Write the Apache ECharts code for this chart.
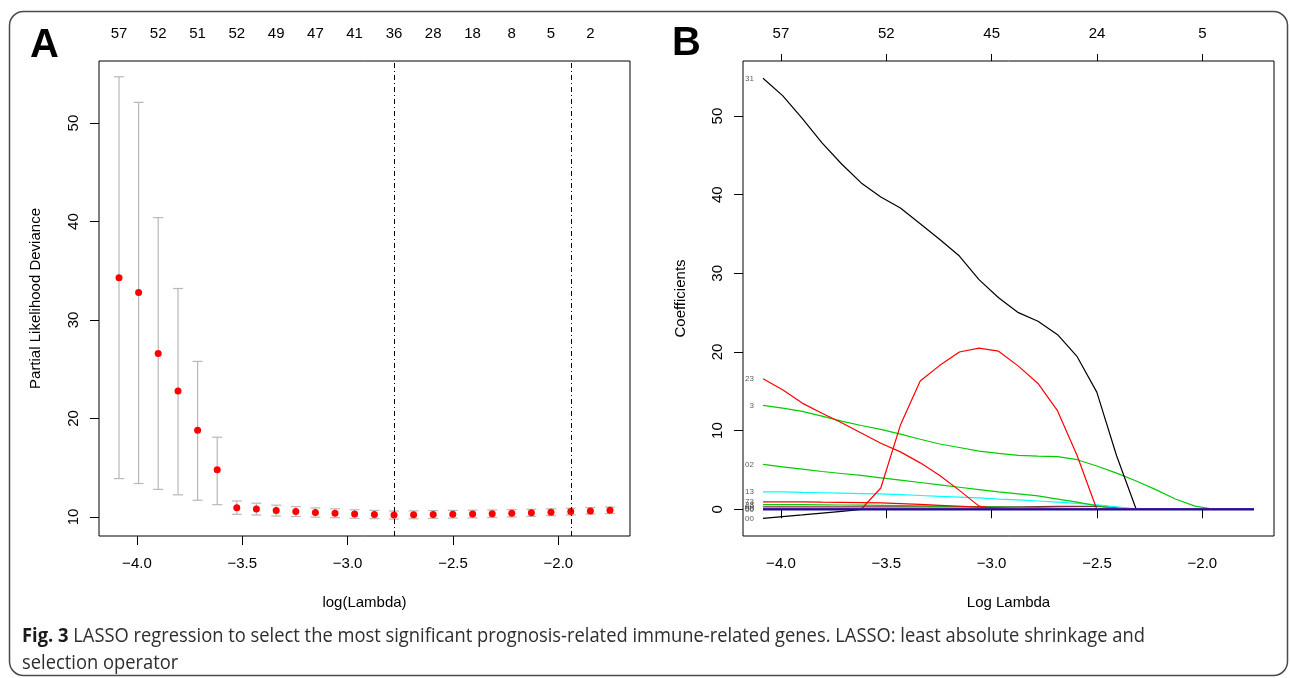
<!DOCTYPE html>
<html>
<head>
<meta charset="utf-8">
<script src="https://cdn.jsdelivr.net/npm/echarts@6/dist/echarts.min.js"></script>
<style>
  html, body { margin: 0; padding: 0; background: #fff; }
  #chart { width: 1290px; height: 678px; }
</style>
</head>
<body>
<div id="chart"></div>
<script>
// ---------------- DATA ----------------
// log(lambda) grid (shared by both panels)
const logLambda = [-4.085, -3.992, -3.899, -3.805, -3.712, -3.619, -3.526, -3.433, -3.339, -3.246,
  -3.153, -3.060, -2.967, -2.873, -2.780, -2.687, -2.594, -2.501, -2.407, -2.314,
  -2.221, -2.128, -2.035, -1.941, -1.848, -1.755];
// Panel A: cross-validated partial likelihood deviance
const devMean  = [34.3, 32.8, 26.6, 22.8, 18.8, 14.8, 10.95, 10.8, 10.65, 10.55, 10.45, 10.38, 10.3, 10.25, 10.2, 10.22, 10.25, 10.28, 10.3, 10.33, 10.37, 10.42, 10.48, 10.55, 10.62, 10.68];
const devUpper = [54.7, 52.1, 40.4, 33.2, 25.8, 18.1, 11.63, 11.4, 11.2, 11.05, 10.92, 10.83, 10.73, 10.67, 10.61, 10.62, 10.65, 10.67, 10.69, 10.71, 10.74, 10.78, 10.83, 10.89, 10.95, 11.01];
const devLower = [13.9, 13.4, 12.8, 12.25, 11.7, 11.25, 10.27, 10.2, 10.1, 10.05, 9.98, 9.93, 9.87, 9.83, 9.79, 9.82, 9.85, 9.89, 9.91, 9.95, 10.0, 10.06, 10.13, 10.21, 10.29, 10.35];
// number of non-zero coefficients shown on top of panel A (every other lambda)
const nzeroTop = ['57', '52', '51', '52', '49', '47', '41', '36', '28', '18', '8', '5', '2'];
const lambdaMin = -2.780;
const lambda1se = -1.941;
const xTicks = [-4.0, -3.5, -3.0, -2.5, -2.0];
const devTicks = [10, 20, 30, 40, 50];
// Panel B: coefficient paths
const coefTicks = [0, 10, 20, 30, 40, 50];
const nzeroB = ['57', '52', '45', '24', '5'];
const coef31  = [54.8, 52.6, 49.7, 46.6, 43.9, 41.5, 39.7, 38.3, 36.3, 34.3, 32.2, 29.2, 26.9, 25.0, 23.9, 22.2, 19.4, 14.9, 6.8, 0, 0, 0, 0, 0, 0, 0];
const coefHump = [0, 0, 0, 0, 0, 0, 2.7, 10.7, 16.3, 18.3, 20.0, 20.5, 20.1, 18.2, 16.0, 12.5, 6.8, 0, 0, 0, 0, 0, 0, 0, 0, 0];
const coef23  = [16.6, 15.2, 13.5, 12.2, 11.0, 9.7, 8.4, 7.3, 5.9, 4.3, 2.4, 0.4, 0, 0, 0, 0, 0, 0, 0, 0, 0, 0, 0, 0, 0, 0];
const coef3   = [13.2, 12.85, 12.45, 11.85, 11.2, 10.65, 10.15, 9.55, 8.9, 8.3, 7.85, 7.4, 7.1, 6.85, 6.75, 6.7, 6.3, 5.5, 4.6, 3.6, 2.5, 1.3, 0.4, 0, 0, 0];
const coef02  = [5.7, 5.4, 5.1, 4.8, 4.55, 4.3, 4.0, 3.7, 3.4, 3.1, 2.8, 2.5, 2.2, 1.95, 1.7, 1.3, 0.9, 0.45, 0.1, 0, 0, 0, 0, 0, 0, 0];
const coef13  = [2.2, 2.2, 2.15, 2.1, 2.05, 2.0, 1.95, 1.85, 1.75, 1.65, 1.55, 1.45, 1.3, 1.2, 1.05, 0.9, 0.75, 0.55, 0.3, 0.05, 0, 0, 0, 0, 0, 0];
const coef73  = [0.95, 0.95, 0.93, 0.9, 0.88, 0.85, 0.8, 0.72, 0.62, 0.5, 0.38, 0.27, 0.17, 0.08, 0, 0, 0, 0, 0, 0, 0, 0, 0, 0, 0, 0];
const coefG23 = [0.6, 0.6, 0.58, 0.56, 0.54, 0.52, 0.5, 0.47, 0.44, 0.4, 0.36, 0.32, 0.28, 0.24, 0.2, 0.16, 0.12, 0.08, 0.04, 0, 0, 0, 0, 0, 0, 0];
const coefD00 = [0.3, 0.3, 0.3, 0.3, 0.3, 0.3, 0.3, 0.3, 0.3, 0.3, 0.3, 0.3, 0.3, 0.32, 0.34, 0.36, 0.38, 0.36, 0.2, 0, 0, 0, 0, 0, 0, 0];
const coefM0  = [0.07, 0.07, 0.07, 0.07, 0.07, 0.07, 0.07, 0.07, 0.07, 0.07, 0.07, 0.07, 0.07, 0.07, 0.07, 0.07, 0.07, 0.07, 0.07, 0.07, 0.07, 0.07, 0.07, 0.07, 0.07, 0.07];
const coefB0  = [-0.07, -0.07, -0.07, -0.07, -0.07, -0.07, -0.07, -0.07, -0.07, -0.07, -0.07, -0.07, -0.07, -0.07, -0.07, -0.07, -0.07, -0.07, -0.07, -0.07, -0.07, -0.07, -0.07, -0.07, -0.07, -0.07];
const coef00  = [-1.15, -0.93, -0.71, -0.48, -0.26, -0.03, 0, 0, 0, 0, 0, 0, 0, 0, 0, 0, 0, 0, 0, 0, 0, 0, 0, 0, 0, 0];
const pathValues = [coefD00, coefG23, coef73, coef13, coef02, coef3, coef23, coefHump, coef31, coef00, coefM0, coefB0];
const pathLabels = ['00', '23', '73', '13', '02', '3', '23', '', '31', '00', '00', '00'];
const captionBold = 'Fig. 3';
const captionLine1 = ' LASSO regression to select the most significant prognosis-related immune-related genes. LASSO: least absolute shrinkage and';
const captionLine2 = 'selection operator';

// ---------------- STYLE ----------------
const pathColors = ['#7a3030', '#00CD00', '#FF0000', '#00FFFF', '#00CD00', '#00CD00', '#FF0000', '#FF0000', '#000000', '#000000', '#4a1aa0', '#14148c'];
const pathWidths = [1.2, 1.2, 1.2, 1.2, 1.2, 1.2, 1.2, 1.2, 1.2, 1.2, 1.6, 1.6];
const FONT = '"Liberation Sans", Arial, Helvetica, sans-serif';
const X_MIN = -4.18, X_MAX = -1.66;

const fmtX = v => (v < 0 ? '\u2212' : '') + Math.abs(v).toFixed(1);
const topPos = logLambda.filter((_, i) => i % 2 === 0);
function nearestIdx(arr, v) {
  let best = -1, bd = 1e9;
  arr.forEach((p, i) => { const d = Math.abs(p - v); if (d < bd) { bd = d; best = i; } });
  return bd < 1e-3 ? best : -1;
}

const chart = echarts.init(document.getElementById('chart'), null, { renderer: 'canvas' });

const labelStyle = { fontFamily: FONT, fontSize: 15, color: '#000' };
const nameStyle = { fontFamily: FONT, fontSize: 15, color: '#000' };

// caption width fit
const CAP_SIZE = 20;
const cv = document.createElement('canvas').getContext('2d');
cv.font = 'bold ' + CAP_SIZE + 'px "Open Sans"';
const wb = cv.measureText(captionBold).width;
cv.font = CAP_SIZE + 'px "Open Sans"';
const wr = cv.measureText(captionLine1).width;
const capScale = 1123 / (wb + wr);

const seriesB = pathValues.map((vals, k) => ({
  type: 'line', xAxisIndex: 2, yAxisIndex: 1,
  data: vals.map((v, i) => [logLambda[i], v]),
  showSymbol: false, symbol: 'none', silent: true,
  lineStyle: { color: pathColors[k], width: pathWidths[k] },
  z: 2 + k * 0.01
}));
const labelSeries = {
  type: 'scatter', xAxisIndex: 2, yAxisIndex: 1, symbolSize: 0, silent: true,
  data: pathValues.map((vals, k) => [logLambda[0], vals[0], pathLabels[k]]).filter(d => d[2] !== ''),
  label: { show: true, position: 'left', distance: 9, formatter: p => p.value[2],
    fontFamily: FONT, fontSize: 8, color: '#333' },
  z: 5
};

const option = {
  animation: false,
  backgroundColor: '#fff',
  grid: [
    { left: 99, top: 61, width: 531, height: 475, show: true, borderColor: '#000', borderWidth: 1, outerBoundsMode: 'none' },
    { left: 743, top: 61, width: 531, height: 475, show: true, borderColor: '#000', borderWidth: 1, outerBoundsMode: 'none' }
  ],
  xAxis: [
    { gridIndex: 0, type: 'value', min: X_MIN, max: X_MAX, position: 'bottom',
      axisLine: { show: false }, splitLine: { show: false },
      axisTick: { show: true, length: 9, customValues: xTicks, lineStyle: { color: '#000', width: 1 } },
      axisLabel: { customValues: xTicks, formatter: fmtX, margin: 20, ...labelStyle },
      name: 'log(Lambda)', nameLocation: 'middle', nameGap: 59, nameTextStyle: nameStyle },
    { gridIndex: 0, type: 'value', min: X_MIN, max: X_MAX, position: 'top',
      axisLine: { show: false }, splitLine: { show: false }, axisTick: { show: false },
      axisLabel: { customValues: topPos, margin: 20, ...labelStyle,
        formatter: v => { const i = nearestIdx(topPos, v); return i >= 0 ? nzeroTop[i] : ''; } } },
    { gridIndex: 1, type: 'value', min: X_MIN, max: X_MAX, position: 'bottom',
      axisLine: { show: false }, splitLine: { show: false },
      axisTick: { show: true, length: 9, customValues: xTicks, lineStyle: { color: '#000', width: 1 } },
      axisLabel: { customValues: xTicks, formatter: fmtX, margin: 20, ...labelStyle },
      name: 'Log Lambda', nameLocation: 'middle', nameGap: 59, nameTextStyle: nameStyle },
    { gridIndex: 1, type: 'value', min: X_MIN, max: X_MAX, position: 'top',
      axisLine: { show: false }, splitLine: { show: false },
      axisTick: { show: true, length: 7, customValues: xTicks, lineStyle: { color: '#000', width: 1 } },
      axisLabel: { customValues: xTicks, margin: 20, ...labelStyle,
        formatter: v => { const i = nearestIdx(xTicks, v); return i >= 0 ? nzeroB[i] : ''; } } }
  ],
  yAxis: [
    { gridIndex: 0, type: 'value', min: 8.07, max: 56.3,
      axisLine: { show: false }, splitLine: { show: false },
      axisTick: { show: true, length: 9, customValues: devTicks, lineStyle: { color: '#000', width: 1 } },
      axisLabel: { customValues: devTicks, rotate: 90, margin: 18, ...labelStyle },
      name: 'Partial Likelihood Deviance', nameLocation: 'middle', nameGap: 56, nameTextStyle: nameStyle },
    { gridIndex: 1, type: 'value', min: -3.4, max: 57.0,
      axisLine: { show: false }, splitLine: { show: false },
      axisTick: { show: true, length: 9, customValues: coefTicks, lineStyle: { color: '#000', width: 1 } },
      axisLabel: { customValues: coefTicks, rotate: 90, margin: 18, ...labelStyle },
      name: 'Coefficients', nameLocation: 'middle', nameGap: 55, nameTextStyle: nameStyle }
  ],
  series: [
    {
      type: 'custom', xAxisIndex: 0, yAxisIndex: 0, silent: true,
      data: logLambda.map((x, i) => [x, devLower[i], devUpper[i]]),
      renderItem: (params, api) => {
        const lo = api.coord([api.value(0), api.value(1)]);
        const hi = api.coord([api.value(0), api.value(2)]);
        const cap = 5;
        const st = { stroke: '#b8b8b8', lineWidth: 1.2 };
        return { type: 'group', children: [
          { type: 'line', shape: { x1: lo[0], y1: lo[1], x2: hi[0], y2: hi[1] }, style: st },
          { type: 'line', shape: { x1: lo[0] - cap, y1: lo[1], x2: lo[0] + cap, y2: lo[1] }, style: st },
          { type: 'line', shape: { x1: hi[0] - cap, y1: hi[1], x2: hi[0] + cap, y2: hi[1] }, style: st }
        ] };
      },
      z: 2
    },
    {
      type: 'scatter', xAxisIndex: 0, yAxisIndex: 0, silent: true,
      data: logLambda.map((x, i) => [x, devMean[i]]),
      symbolSize: 7, itemStyle: { color: '#FF0000', opacity: 1 }, z: 3,
      markLine: { silent: true, symbol: ['none', 'none'], label: { show: false },
        lineStyle: { color: '#000', width: 1, type: [5, 3, 1, 3] },
        data: [{ xAxis: lambdaMin }, { xAxis: lambda1se }] }
    },
    ...seriesB,
    labelSeries
  ],
  graphic: [
    { type: 'rect', shape: { x: 9.5, y: 11.5, width: 1278, height: 664, r: 14 },
      style: { fill: 'none', stroke: '#4a4a4a', lineWidth: 1.5 }, silent: true },
    { type: 'text', left: 30, top: 26, style: { text: 'A', font: 'bold 40px ' + FONT, fill: '#000' } },
    { type: 'text', left: 672, top: 24, style: { text: 'B', font: 'bold 40px ' + FONT, fill: '#000' } },
    { type: 'text', x: 22, y: 650, scaleX: capScale, scaleY: 1,
      style: { text: '{b|' + captionBold + '}' + captionLine1 + '\n' + captionLine2,
        font: CAP_SIZE + 'px "Open Sans"', fill: '#2e2e2e', lineHeight: 27, verticalAlign: 'middle',
        rich: { b: { fontWeight: 'bold', fontFamily: 'Open Sans', fontSize: CAP_SIZE, fill: '#1a1a1a', lineHeight: 27 } } } }
  ]
};
chart.setOption(option);
</script>
</body>
</html>
